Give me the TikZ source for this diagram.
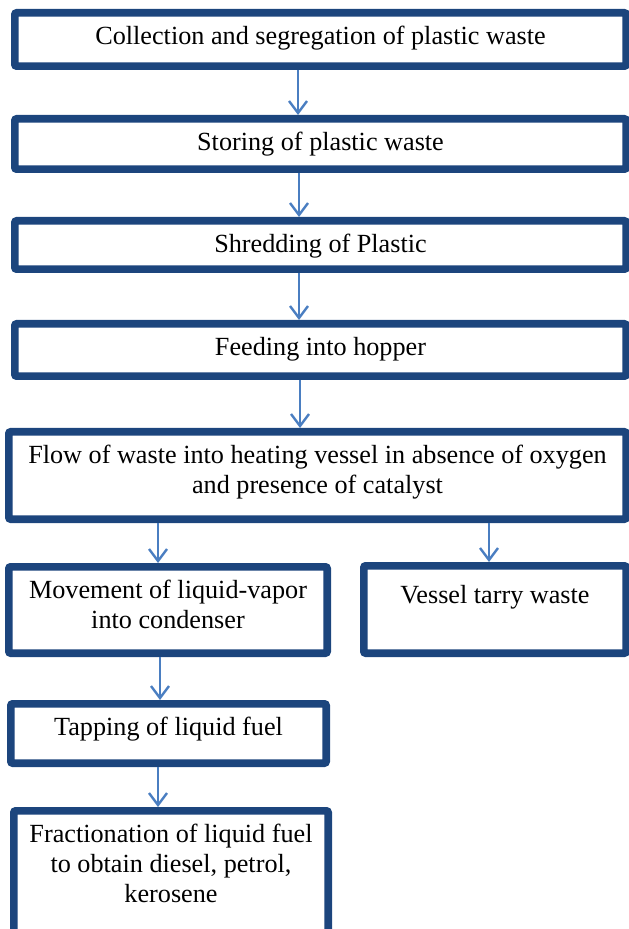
\documentclass[tikz,border=0pt]{standalone}
\usepackage{fontspec}
\setmainfont{Liberation Serif}
\usetikzlibrary{arrows.meta}
\definecolor{cnavy}{RGB}{28,69,125}
\definecolor{carrow}{RGB}{74,126,193}
\tikzset{stage/.style={draw=cnavy,line width=3.8pt,rounded corners=1pt,fill=white,align=center,
    anchor=north,inner xsep=2pt,inner ysep=6pt,text height=10pt,font=\fontsize{13.1}{14.8}\selectfont},
  flow/.style={carrow,line width=1.2pt,-{Straight Barb[length=6pt,width=9pt]}}}

\begin{document}
\begin{tikzpicture}[x=0.5pt,y=-0.5pt]
    \useasboundingbox (0,0) rectangle (628,929);
    % main line of steps
    \node[stage,minimum width=305.7pt,text depth=4.7pt] (collect) at (320.5,9) {Collection and segregation of plastic waste};
    \node[stage,minimum width=305.7pt,text depth=3.2pt] (store) at (320.5,115) {Storing of plastic waste};
    \node[stage,minimum width=305.7pt,text depth=2.2pt] (shred) at (320.5,217) {Shredding of Plastic};
    \node[stage,minimum width=305.7pt,text depth=4.2pt] (feed) at (320.5,320) {Feeding into hopper};
    \node[stage,minimum width=308.7pt,text height=24.8pt,text depth=6.9pt] (heat) at (317.5,428)
      {Flow of waste into heating vessel in absence of oxygen\\ and presence of catalyst};
    % two outputs of the vessel
    \node[stage,minimum width=159.2pt,text height=24.8pt,text depth=6.4pt] (condense) at (168,563)
      {Movement of liquid-vapor\\ into condenser};
    \node[stage,minimum width=131.2pt,text height=13pt,text depth=18.7pt] (tarry) at (495,562) {Vessel tarry waste};
    \node[stage,minimum width=157.7pt,text depth=7.7pt] (tap) at (168.5,700) {Tapping of liquid fuel};
    \node[stage,minimum width=157.2pt,text height=39.6pt,text depth=11.1pt] (fraction) at (171,807)
      {Fractionation of liquid fuel\\ to obtain diesel, petrol,\\ kerosene};
    \draw[flow] (collect.south -| 298,0) -- (store.north -| 298,0);
    \draw[flow] (store.south -| 299,0) -- (shred.north -| 299,0);
    \draw[flow] (shred.south -| 299,0) -- (feed.north -| 299,0);
    \draw[flow] (feed.south -| 300,0) -- (heat.north -| 300,0);
    \draw[flow] (heat.south -| 158,0) -- (condense.north -| 158,0);
    \draw[flow] (heat.south -| 489,0) -- (tarry.north -| 489,0);
    \draw[flow] (condense.south -| 160,0) -- (tap.north -| 160,0);
    \draw[flow] (tap.south -| 158,0) -- (fraction.north -| 158,0);
\end{tikzpicture}
\end{document}
